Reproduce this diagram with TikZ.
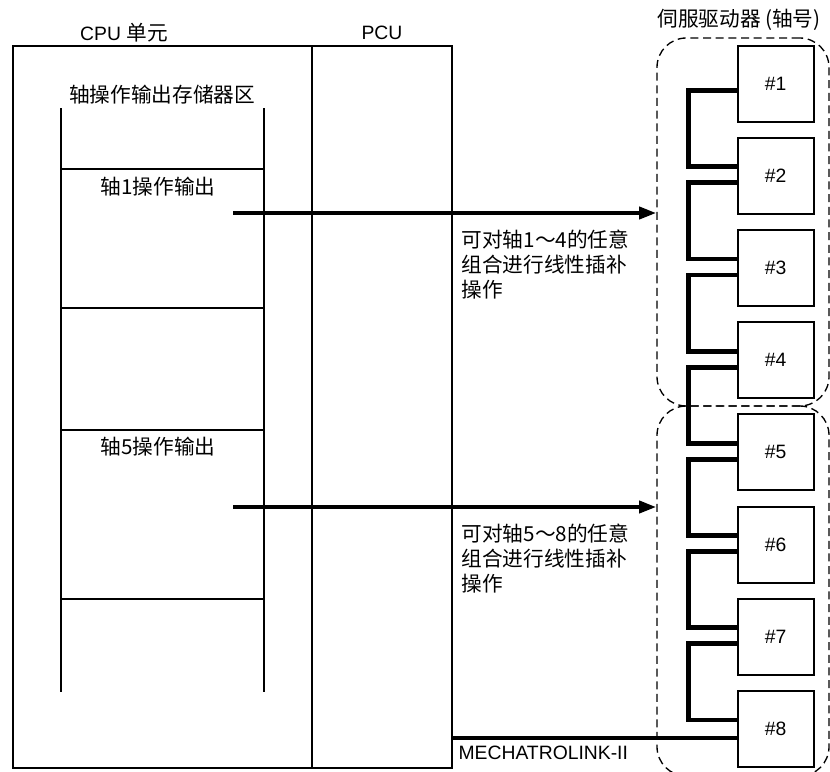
\documentclass[tikz,border=0pt]{standalone}
\usepackage{fontspec}
\setmainfont{Liberation Sans}
\newfontfamily\cjk{Noto Sans CJK SC}
\usetikzlibrary{arrows.meta,calc,positioning}

\tikzset{
  unitline/.style={line width=1.3pt},
  memline/.style={line width=2pt},
  link/.style={line width=3.6pt,line cap=butt,line join=miter},
  feed/.style={line width=3pt,-{Triangle[length=13pt,width=9pt]}},
  servo/.style={draw,line width=1.5pt,fill=white,minimum size=57pt,inner sep=0pt,font=\fontsize{14.5}{17}\selectfont},
  group/.style={draw,dashed,dash pattern=on 6pt off 3.5pt,line width=1pt,rounded corners=22pt,inner sep=0pt},
  lbl/.style={font=\fontsize{14.5}{17}\selectfont,inner sep=1pt},
  cjklbl/.style={lbl,font=\cjk\fontsize{15.5}{18}\selectfont},
  note/.style={lbl,align=left,font=\cjk\fontsize{15.5}{19}\selectfont}
}

\begin{document}
\begin{tikzpicture}[x=0.75pt,y=-0.75pt]
  \useasboundingbox (0,0) rectangle (830,771);

  % CPU unit and PCU
  \draw[unitline] (13,46) rectangle (312,768);
  \draw[unitline] (312,46) rectangle (452,768);
  \node[lbl] (cpulbl) at (124,33) {CPU {\cjk\fontsize{15.5}{18}\selectfont 单元}};
  \node[lbl] (pculbl) at (382,33) {PCU};

  % axis operating output memory area
  \node[cjklbl] (memlbl) at (162,95) {轴操作输出存储器区};
  \draw[memline] (61,108) -- (61,692);
  \draw[memline] (264,108) -- (264,692);
  \foreach \yy in {169,308,430,599}
    \draw[memline] (61,\yy) -- (264,\yy);
  \node[cjklbl] (ax1) at (158,187) {轴1操作输出};
  \node[cjklbl] (ax5) at (158,447) {轴5操作输出};

  % servo drive groups
  \node[cjklbl] (srvlbl) at (739,20) {伺服驱动器 (轴号)};
  \node[group,minimum width=129pt,minimum height=276pt] (g1) at (743,222) {};
  \node[group,minimum width=129pt,minimum height=277.5pt] (g2) at (743,591) {};

  % servo drives #1..#8 and daisy-chain links
  \foreach \i in {1,...,8}
    \node[servo] (s\i) at (775.5,{83.5+92.2*(\i-1)}) {\#\i};
  \foreach \i [evaluate=\i as \j using int(\i+1)] in {1,...,7}
    \draw[link] ($(s\i.north west)+(0,46)$) -- ++(-48,0) |- ($(s\j.north west)+(0,30)$);

  % interpolation arrows
  \coordinate (o1) at (233,213);
  \coordinate (o5) at (233,507);
  \draw[feed] (o1) -- (o1 -| g1.west);
  \draw[feed] (o5) -- (o5 -| g2.west);
  \node[note,anchor=north west] (n1) at (460,228) {可对轴1～4的任意\\组合进行线性插补\\操作};
  \node[note,anchor=north west] (n5) at (460,522) {可对轴5～8的任意\\组合进行线性插补\\操作};

  % MECHATROLINK-II
  \coordinate (ml) at (452,738);
  \draw[link] (ml) -- (ml -| s8.west);
  \node[lbl,anchor=west] (mltxt) at (457,753) {MECHATROLINK-II};
\end{tikzpicture}
\end{document}
